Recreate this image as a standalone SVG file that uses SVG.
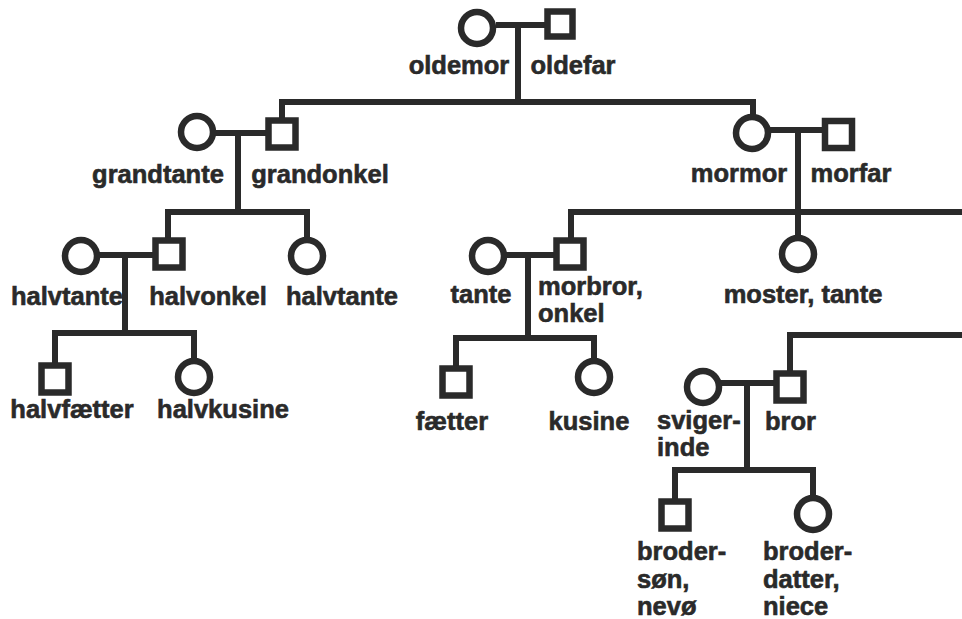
<svg xmlns="http://www.w3.org/2000/svg" width="962" height="619" viewBox="0 0 962 619">
<style>
.f{fill:#fff;stroke:#2a2a2a;stroke-width:6.5}
.c path{fill:none;stroke:#2a2a2a;stroke-width:6;stroke-linejoin:miter}
text{font-family:"Liberation Sans",Arial,Helvetica,sans-serif;font-weight:bold;font-size:25.5px;fill:#2a2a2a;stroke:#2a2a2a;stroke-width:0.6}
.m{text-anchor:middle}
</style>
<rect width="962" height="619" fill="#fff"/>
<g class="c" id="connectors">
<path d="M496 25H546"/>
<path d="M518 25V102"/>
<path d="M282 121V102H753V116"/>
<path d="M213 133H269"/>
<path d="M238 133V212"/>
<path d="M168 241V212H307V240"/>
<path d="M97 255H156"/>
<path d="M125 255V333"/>
<path d="M55 366V333H194V361"/>
<path d="M768 130H825"/>
<path d="M798 130V238"/>
<path d="M571 241V212H962"/>
<path d="M962 335H790V374"/>
<path d="M504 255H557"/>
<path d="M528 255V338"/>
<path d="M456 369V338H594V361"/>
<path d="M719 383H777"/>
<path d="M747 383V470"/>
<path d="M675 502V470H813V498"/>
</g>
<g id="oldemor"><circle class="f" cx="477" cy="28" r="16"/><text class="m" x="459" y="74">oldemor</text></g>
<g id="oldefar"><rect class="f" x="547.5" y="11.5" width="25" height="25"/><text class="m" x="573" y="74">oldefar</text></g>
<g id="grandtante"><circle class="f" cx="197" cy="132" r="16"/><text class="m" x="158" y="183">grandtante</text></g>
<g id="grandonkel"><rect class="f" x="268.5" y="120.5" width="27" height="27"/><text class="m" x="320" y="183">grandonkel</text></g>
<g id="mormor"><circle class="f" cx="752" cy="133" r="16"/><text class="m" x="739" y="182">mormor</text></g>
<g id="morfar"><rect class="f" x="825" y="121" width="27" height="27"/><text class="m" x="851" y="182">morfar</text></g>
<g id="halvtante1"><circle class="f" cx="81" cy="256" r="16"/><text class="m" x="67" y="305">halvtante</text></g>
<g id="halvonkel"><rect class="f" x="155.5" y="240.5" width="27" height="27"/><text class="m" x="208" y="305">halvonkel</text></g>
<g id="halvtante2"><circle class="f" cx="307" cy="256" r="16"/><text class="m" x="342" y="305">halvtante</text></g>
<g id="halvfaetter"><rect class="f" x="41.5" y="365.5" width="27" height="27"/><text class="m" x="72" y="418">halvfætter</text></g>
<g id="halvkusine"><circle class="f" cx="194" cy="377" r="16"/><text class="m" x="223" y="418">halvkusine</text></g>
<g id="tante"><circle class="f" cx="488" cy="256" r="16"/><text class="m" x="481" y="303">tante</text></g>
<g id="morbror"><rect class="f" x="556.5" y="240.5" width="27" height="27"/><text x="538" y="295">morbror,</text><text x="538" y="322">onkel</text></g>
<g id="moster"><circle class="f" cx="798" cy="254" r="16"/><text class="m" x="803" y="303">moster, tante</text></g>
<g id="faetter"><rect class="f" x="442.5" y="368.5" width="27" height="27"/><text class="m" x="452" y="430">fætter</text></g>
<g id="kusine"><circle class="f" cx="594" cy="377" r="16"/><text class="m" x="589" y="430">kusine</text></g>
<g id="svigerinde"><circle class="f" cx="703" cy="387" r="16"/><text x="657" y="429">sviger-</text><text x="657" y="456">inde</text></g>
<g id="bror"><rect class="f" x="776.5" y="373.5" width="27" height="27"/><text x="765" y="430">bror</text></g>
<g id="brodersoen"><rect class="f" x="661.5" y="501.5" width="27" height="27"/><text x="637" y="560">broder-</text><text x="637" y="588">søn,</text><text x="637" y="615">nevø</text></g>
<g id="broderdatter"><circle class="f" cx="813" cy="514" r="16"/><text x="763" y="560">broder-</text><text x="763" y="588">datter,</text><text x="763" y="615">niece</text></g>
</svg>
